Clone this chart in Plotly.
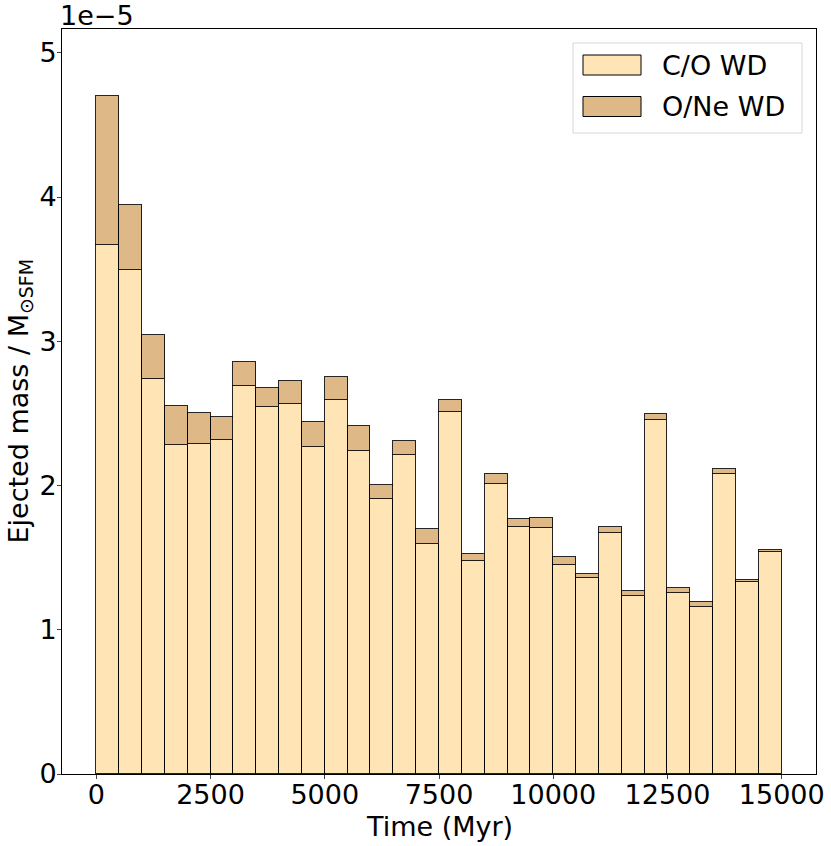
import numpy as np
import plotly.graph_objects as go

# Histogram bins (Myr)
bin_edges = np.arange(0, 15001, 500)
bin_centers = (bin_edges[:-1] + bin_edges[1:]) / 2

# Ejected mass per bin, in units of 1e-5 M_sun per SFM
co_wd = np.array([3.666, 3.495, 2.737, 2.282, 2.287, 2.317, 2.687, 2.542, 2.567, 2.264,
                  2.591, 2.241, 1.908, 2.215, 1.592, 2.507, 1.474, 2.010, 1.713, 1.707,
                  1.446, 1.356, 1.672, 1.231, 2.451, 1.257, 1.155, 2.079, 1.333, 1.539]) * 1e-5
one_wd = np.array([1.034, 0.450, 0.310, 0.266, 0.213, 0.155, 0.170, 0.135, 0.156, 0.178,
                   0.162, 0.169, 0.093, 0.095, 0.106, 0.089, 0.053, 0.071, 0.056, 0.065,
                   0.060, 0.028, 0.037, 0.039, 0.042, 0.030, 0.037, 0.036, 0.014, 0.015]) * 1e-5

series_names = ["C/O WD", "O/Ne WD"]
series_colors = ["#FFE4B5", "#DEB887"]  # moccasin, burlywood

x_ticks = [0, 2500, 5000, 7500, 10000, 12500, 15000]
x_ticktext = ["0", "2500", "5000", "7500", "10000", "12500", "15000"]
y_ticks = [0, 1e-5, 2e-5, 3e-5, 4e-5, 5e-5]
y_ticktext = ["0", "1", "2", "3", "4", "5"]

FONT = "DejaVu Sans"
FS = 27
W, H = 831, 846
L, R, T, B = 62, 15, 29, 72


def px_to_paper(px, py):
    return (px - L) / (W - L - R), (H - B - py) / (H - B - T)


fig = go.Figure()
for name, vals, col in zip(series_names, [co_wd, one_wd], series_colors):
    fig.add_trace(go.Bar(
        x=bin_centers, y=vals, width=500, name=name,
        marker=dict(color=col, line=dict(color="rgba(0,0,0,0.85)", width=1)),
        showlegend=False,
    ))

# Legend drawn by hand to get matplotlib-style patches
x0, y0 = px_to_paper(573, 43)
x1, y1 = px_to_paper(802, 133)
shapes = [dict(type="rect", xref="paper", yref="paper", x0=x0, y0=y0, x1=x1, y1=y1,
               line=dict(color="#d6d6d6", width=1), fillcolor="rgba(255,255,255,0.8)",
               layer="above")]
annotations = []
for i, (name, col) in enumerate(zip(series_names, series_colors)):
    top = 55 + i * 41.5
    px0, py0 = px_to_paper(583, top)
    px1, py1 = px_to_paper(641, top + 20)
    shapes.append(dict(type="rect", xref="paper", yref="paper", x0=px0, y0=py0, x1=px1, y1=py1,
                       line=dict(color="black", width=1), fillcolor=col, layer="above"))
    tx, ty = px_to_paper(660, top + 10)
    annotations.append(dict(xref="paper", yref="paper", x=tx, y=ty, text=name,
                            showarrow=False, xanchor="left", yanchor="middle",
                            font=dict(family=FONT, size=FS, color="black")))

annotations.append(dict(xref="paper", yref="paper", x=0, y=1, text="1e\u22125",
                        showarrow=False, xanchor="left", yanchor="bottom", yshift=-4,
                        xshift=-4, font=dict(family=FONT, size=FS, color="black")))

# axis titles as annotations for exact placement
tx, ty = px_to_paper(439, 826)
annotations.append(dict(xref="paper", yref="paper", x=0.5, y=ty, text="Time (Myr)",
                        showarrow=False, xanchor="center", yanchor="middle",
                        font=dict(family=FONT, size=FS, color="black")))
tx, ty = px_to_paper(20, 401)
annotations.append(dict(xref="paper", yref="paper", x=tx, y=0.5,
                        text="Ejected mass / M<sub>\u2299SFM</sub>", textangle=-90,
                        showarrow=False, xanchor="center", yanchor="middle",
                        font=dict(family=FONT, size=FS, color="black")))

fig.update_layout(
    width=W, height=H,
    margin=dict(l=L, r=R, t=T, b=B),
    barmode="stack", bargap=0,
    plot_bgcolor="white", paper_bgcolor="white",
    font=dict(family=FONT, size=FS, color="black"),
    shapes=shapes, annotations=annotations,
    xaxis=dict(range=[-750, 15750], tickvals=x_ticks, ticktext=x_ticktext,
               ticks="outside", ticklen=4, ticklabelstandoff=-7, automargin=False,
               showgrid=False, zeroline=False, showline=True, linecolor="black",
               linewidth=1, mirror=True),
    yaxis=dict(range=[0, 5.165e-5], tickvals=y_ticks, ticktext=y_ticktext,
               ticks="outside", ticklen=4, ticklabelstandoff=-5, automargin=False,
               showgrid=False, zeroline=False, showline=True, linecolor="black",
               linewidth=1, mirror=True),
)

# drop the default 8px body margin so the figure fills the window exactly
fig.write_html("out.html", config={"displayModeBar": False},
               post_script="document.body.style.margin='0';document.body.style.overflow='hidden';")
